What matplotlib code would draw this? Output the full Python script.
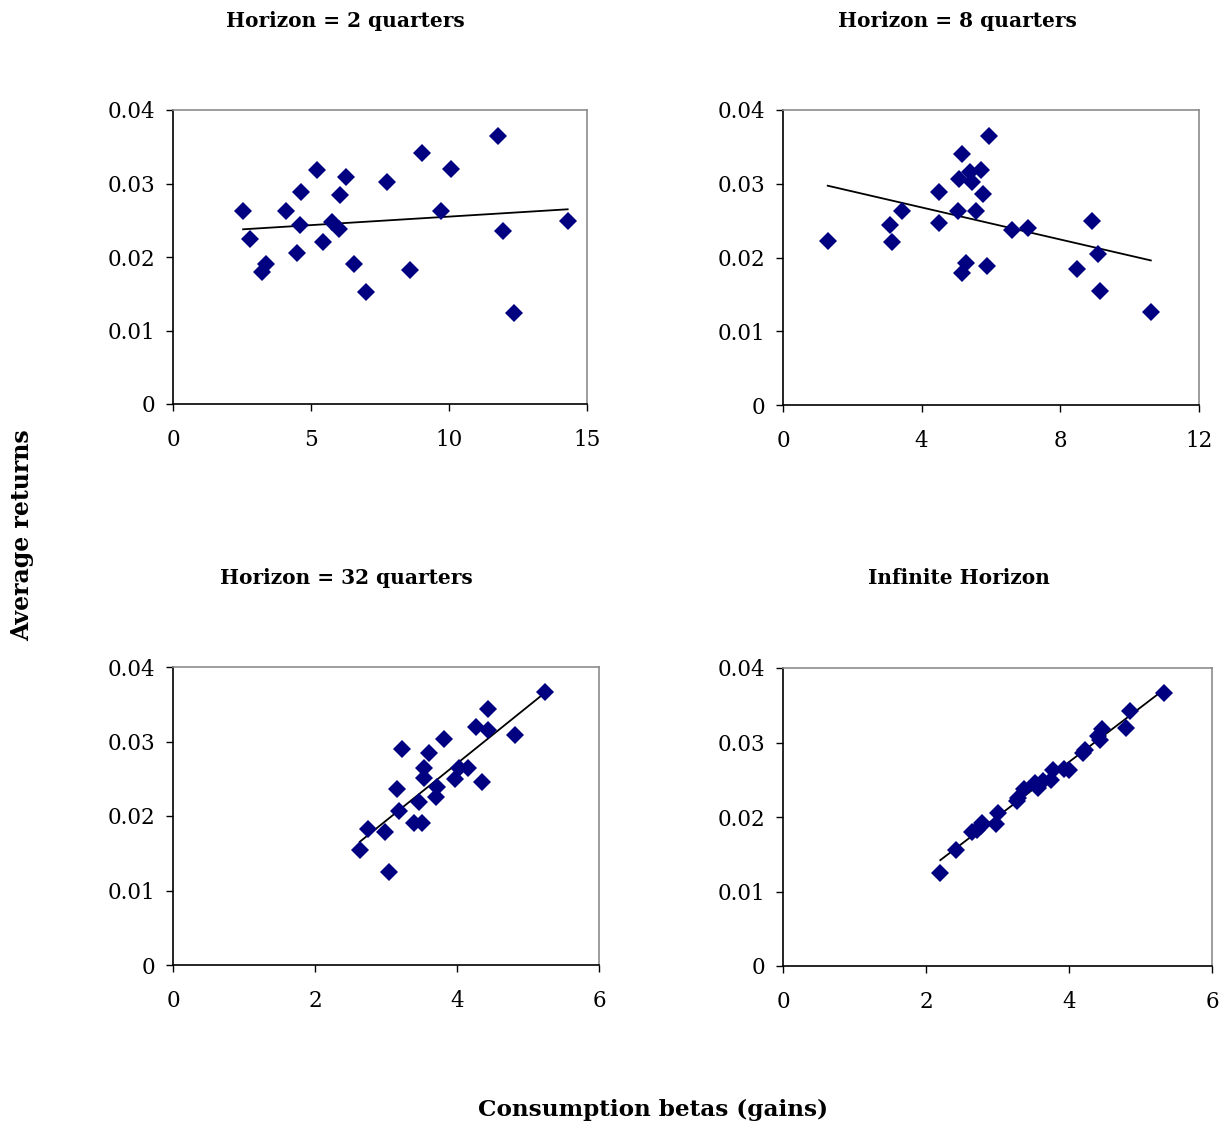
import numpy as np
import matplotlib
matplotlib.use('Agg')
import matplotlib.pyplot as plt

plt.rcParams['font.family'] = ['DejaVu Serif']

# horizon = 2 quarters
beta2 = [2.54, 2.80, 3.24, 3.38, 4.08, 4.65, 4.59, 4.50, 5.22, 5.42, 5.77, 6.00, 6.06,
         6.28, 6.55, 6.98, 7.75, 8.60, 9.03, 9.72, 10.08, 11.78, 11.97, 12.34, 14.30]
ret2 = [0.0262, 0.0225, 0.0179, 0.0191, 0.0262, 0.0288, 0.0243, 0.0206, 0.0318, 0.0220,
        0.0247, 0.0238, 0.0285, 0.0309, 0.0190, 0.0153, 0.0302, 0.0182, 0.0341, 0.0263,
        0.0320, 0.0365, 0.0235, 0.0124, 0.0249]

# horizon = 8 quarters
beta8 = [1.29, 3.08, 3.15, 3.43, 4.49, 4.49, 5.06, 5.09, 5.15, 5.38, 5.44, 5.56, 5.72,
         5.77, 5.28, 5.16, 5.88, 5.94, 6.61, 7.07, 8.47, 8.92, 9.09, 9.14, 10.61]
ret8 = [0.0223, 0.0244, 0.0221, 0.0263, 0.0289, 0.0247, 0.0263, 0.0307, 0.0341, 0.0316,
        0.0302, 0.0263, 0.0318, 0.0286, 0.0192, 0.0179, 0.0189, 0.0365, 0.0237, 0.0240,
        0.0184, 0.0250, 0.0205, 0.0155, 0.0126]

# horizon = 32 quarters
beta32 = [2.63, 2.74, 2.99, 3.04, 3.15, 3.18, 3.23, 3.39, 3.51, 3.47, 3.53, 3.53, 3.61,
          3.70, 3.72, 3.81, 3.97, 4.03, 4.16, 4.27, 4.35, 4.44, 4.44, 4.82, 5.24]
ret32 = [0.0154, 0.0183, 0.0178, 0.0125, 0.0236, 0.0207, 0.0290, 0.0191, 0.0191, 0.0219,
         0.0265, 0.0251, 0.0285, 0.0225, 0.0239, 0.0303, 0.0249, 0.0264, 0.0264, 0.0320,
         0.0246, 0.0343, 0.0316, 0.0309, 0.0367]

# infinite horizon
betaInf = [2.20, 2.42, 2.65, 2.71, 2.79, 2.77, 2.98, 3.01, 3.27, 3.29, 3.37, 3.52, 3.56,
           3.63, 3.75, 3.77, 3.93, 4.00, 4.20, 4.22, 4.40, 4.44, 4.46, 4.80, 4.85, 5.33]
retInf = [0.0125, 0.0156, 0.0180, 0.0182, 0.0192, 0.0188, 0.0190, 0.0206, 0.0221, 0.0225,
          0.0238, 0.0245, 0.0239, 0.0248, 0.0250, 0.0263, 0.0264, 0.0263, 0.0286, 0.0290,
          0.0309, 0.0304, 0.0318, 0.0320, 0.0342, 0.0367]

titles = ['Horizon = 2 quarters', 'Horizon = 8 quarters',
          'Horizon = 32 quarters', 'Infinite Horizon']
xticks = [[0, 5, 10, 15], [0, 4, 8, 12], [0, 2, 4, 6], [0, 2, 4, 6]]
yticks = [0, 0.01, 0.02, 0.03, 0.04]
ytlabels = ['0', '0.01', '0.02', '0.03', '0.04']

W, H = 1230, 1133
fig = plt.figure(figsize=(W / 100, H / 100), dpi=100)

# axes boxes in pixels: left, right, top, bottom
boxes = [(173, 587, 110, 404), (783, 1199, 110, 405),
         (173, 599, 667, 965), (783, 1212, 668, 966)]
title_pos = [(345, 21), (957, 21), (346, 578), (959, 578)]

data = [(beta2, ret2), (beta8, ret8), (beta32, ret32), (betaInf, retInf)]

for i, (bx, ry) in enumerate(data):
    l, r, t, b = boxes[i]
    ax = fig.add_axes([l / W, 1 - b / H, (r - l) / W, (b - t) / H])
    x = np.array(bx)
    y = np.array(ry)
    ax.plot(x, y, 'D', color='#000080', markersize=9.3, markeredgewidth=0, zorder=3)
    # linear trend line over the data range
    k, c0 = np.polyfit(x, y, 1)
    xl = np.array([x.min(), x.max()])
    ax.plot(xl, k * xl + c0, color='black', linewidth=1.3, zorder=2)
    ax.set_xlim(xticks[i][0], xticks[i][-1])
    ax.set_ylim(0, 0.04)
    ax.set_xticks(xticks[i])
    ax.set_xticklabels([str(v) for v in xticks[i]])
    ax.set_yticks(yticks)
    ax.set_yticklabels(ytlabels)
    for s in ['top', 'right']:
        ax.spines[s].set_color('#8c8c8c')
        ax.spines[s].set_linewidth(1.2)
    for s in ['left', 'bottom']:
        ax.spines[s].set_color('black')
        ax.spines[s].set_linewidth(1.2)
    ax.tick_params(axis='both', direction='out', length=5, width=1, labelsize=15.5)
    ax.tick_params(axis='y', pad=8)
    ax.tick_params(axis='x', pad=13)
    tx, ty = title_pos[i]
    fig.text(tx / W, 1 - ty / H, titles[i], ha='center', va='center',
             fontsize=14.5, fontweight='bold')

fig.text(22 / W, 1 - 535 / H, 'Average returns', rotation=90, ha='center', va='center',
         fontsize=17, fontweight='bold')
fig.text(653 / W, 1 - 1110 / H, 'Consumption betas (gains)', ha='center', va='center',
         fontsize=16.7, fontweight='bold')

fig.savefig('out.png', dpi=100)
